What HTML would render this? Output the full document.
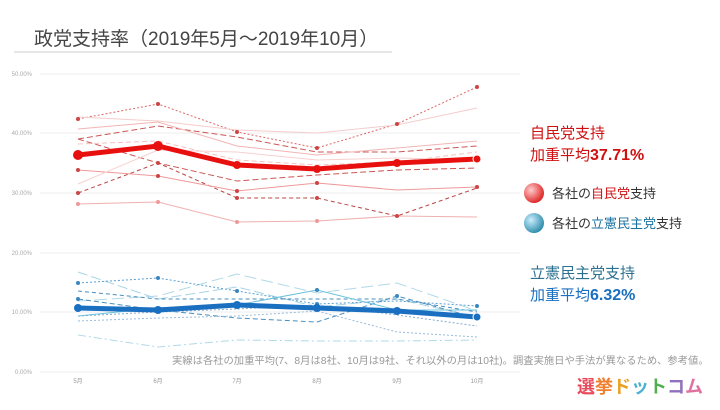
<!DOCTYPE html>
<html><head><meta charset="utf-8"><style>
body{margin:0;background:#fff;font-family:"Liberation Sans","Noto Sans CJK JP",sans-serif;}
</style></head><body>
<svg width="720" height="405" xmlns="http://www.w3.org/2000/svg" font-family="Liberation Sans, Noto Sans CJK JP, sans-serif">
<text x="34" y="45" font-size="19" fill="#444">政党支持率（2019年5月～2019年10月）</text>
<line x1="14" y1="52" x2="392" y2="52" stroke="#ccc" stroke-width="1"/>
<g stroke="#eee" stroke-width="1">
<line x1="40" y1="74" x2="520" y2="74"/><line x1="40" y1="133" x2="520" y2="133"/>
<line x1="40" y1="193" x2="520" y2="193"/><line x1="40" y1="253" x2="520" y2="253"/>
<line x1="40" y1="312" x2="520" y2="312"/><line x1="40" y1="372" x2="520" y2="372"/>
</g>
<g font-size="6" fill="#aaa" text-anchor="end">
<text x="32" y="76">50.00%</text><text x="32" y="135">40.00%</text><text x="32" y="195">30.00%</text>
<text x="32" y="255">20.00%</text><text x="32" y="314">10.00%</text><text x="32" y="374">0.00%</text>
</g>
<g font-size="6" fill="#999" text-anchor="middle">
<text x="78" y="383">5月</text><text x="158" y="383">6月</text><text x="237" y="383">7月</text>
<text x="317" y="383">8月</text><text x="397" y="383">9月</text><text x="477" y="383">10月</text>
</g>
<g fill="none" stroke-width="1">
<polyline points="78,119 158,104 237,132 317,148 397,124 477,87" stroke="#d66" stroke-dasharray="2,2"/>
<polyline points="78,139 158,126 237,137 317,152 397,152 477,146" stroke="#c55" stroke-dasharray="6,3"/>
<polyline points="78,139 158,163 237,181 317,175 397,170 477,168" stroke="#c55" stroke-dasharray="6,3"/>
<polyline points="78,193 158,163 237,198 317,198 397,216 477,188" stroke="#b44" stroke-dasharray="4,3"/>
<polyline points="78,170 158,176 237,191 317,183 397,190 477,187" stroke="#e99"/>
<polyline points="78,204 158,202 237,222 317,221 397,216 477,217" stroke="#f0b0b0"/>
<polyline points="78,129 158,122 237,146 317,155 397,148 477,141" stroke="#f2b5b5"/>
<polyline points="78,117 158,121 237,130 317,133 397,125 477,108" stroke="#f5cccc"/>
<polyline points="78,144 158,141 237,160 317,165 397,162 477,152" stroke="#f5c0c0" stroke-dasharray="5,3"/>
<polyline points="78,184 158,150 237,152 317,160 397,158 477,160" stroke="#f8d0d0"/>
</g>
<g fill="#c44">
<circle cx="78" cy="119" r="2"/><circle cx="158" cy="104" r="2"/><circle cx="237" cy="132" r="2"/><circle cx="317" cy="148" r="2"/><circle cx="397" cy="124" r="2"/><circle cx="477" cy="87" r="2"/>
<circle cx="78" cy="193" r="2"/><circle cx="158" cy="163" r="2"/><circle cx="237" cy="198" r="2"/><circle cx="317" cy="198" r="2"/><circle cx="397" cy="216" r="2"/>
<circle cx="78" cy="170" r="2"/><circle cx="158" cy="176" r="2"/><circle cx="237" cy="191" r="2"/><circle cx="317" cy="183" r="2"/><circle cx="477" cy="187" r="2"/>
<circle cx="78" cy="204" r="2" fill="#e99"/><circle cx="158" cy="202" r="2" fill="#e99"/><circle cx="237" cy="222" r="2" fill="#e99"/><circle cx="317" cy="221" r="2" fill="#e99"/>
</g>
<polyline points="78,155 158,146 237,165 317,169 397,163 477,159" fill="none" stroke="#e8100e" stroke-width="5"/>
<g fill="#e8100e"><circle cx="78" cy="155" r="5"/><circle cx="158" cy="146" r="5"/><circle cx="237" cy="165" r="4"/><circle cx="317" cy="169" r="4"/><circle cx="397" cy="163" r="4"/><circle cx="477" cy="159" r="4" stroke="#fff" stroke-width="1"/></g>
<g fill="none" stroke-width="1">
<polyline points="78,272 158,299 237,287 317,307 397,299 477,317" stroke="#a8d4e6" stroke-dasharray="10,4"/>
<polyline points="78,301 158,296 237,274 317,293 397,283 477,311" stroke="#b0d8e8" stroke-dasharray="12,5"/>
<polyline points="78,283 158,278 237,291 317,304 397,301 477,306" stroke="#5a9fd0" stroke-dasharray="2,2"/>
<polyline points="78,291 158,299 237,299 317,299 397,299 477,312" stroke="#4a8fc0" stroke-dasharray="4,3"/>
<polyline points="78,299 158,310 237,318 317,322 397,296 477,318" stroke="#4a8fc0" stroke-dasharray="5,3"/>
<polyline points="78,316 158,312 237,309 317,305 397,315 477,326" stroke="#8ac" stroke-dasharray="2,2"/>
<polyline points="78,321 158,318 237,316 317,311 397,332 477,337" stroke="#9bd" stroke-dasharray="2,2"/>
<polyline points="78,316 158,308 237,305 317,290 397,310 477,310" stroke="#6bc0dc"/>
<polyline points="78,335 158,347 237,340 317,341 397,341 477,340" stroke="#b0d8e8" stroke-dasharray="8,3,2,3"/>
</g>
<g fill="#3a86c0">
<circle cx="78" cy="283" r="2"/><circle cx="158" cy="278" r="2"/><circle cx="237" cy="291" r="2"/><circle cx="317" cy="304" r="2"/>
<circle cx="78" cy="299" r="2"/><circle cx="317" cy="290" r="2"/><circle cx="397" cy="296" r="2"/><circle cx="477" cy="306" r="2"/><circle cx="237" cy="305" r="2"/>
</g>
<polyline points="78,308 158,310 237,305 317,308 397,311 477,317" fill="none" stroke="#1a6fc0" stroke-width="5"/>
<g fill="#1a6fc0"><circle cx="78" cy="308" r="4"/><circle cx="158" cy="310" r="4"/><circle cx="237" cy="305" r="4"/><circle cx="317" cy="308" r="4"/><circle cx="397" cy="311" r="4"/><circle cx="477" cy="317" r="4" stroke="#fff" stroke-width="1"/></g>
<text x="530" y="138" font-size="15" fill="#d01010">自民党支持</text>
<text x="530" y="160" font-size="15" fill="#d01010">加重平均<tspan font-weight="bold" font-size="16">37.71%</tspan></text>
<defs>
<radialGradient id="rg" cx="0.35" cy="0.35" r="0.7"><stop offset="0" stop-color="#fcc"/><stop offset="1" stop-color="#d22"/></radialGradient>
<radialGradient id="bg" cx="0.35" cy="0.35" r="0.7"><stop offset="0" stop-color="#cef"/><stop offset="1" stop-color="#2a8aa8"/></radialGradient>
</defs>
<circle cx="534" cy="193" r="10" fill="url(#rg)"/>
<text x="552" y="198" font-size="13" fill="#333">各社の<tspan fill="#d01010">自民党</tspan>支持</text>
<circle cx="534" cy="223" r="10" fill="url(#bg)"/>
<text x="552" y="228" font-size="13" fill="#333">各社の<tspan fill="#1a6fa0">立憲民主党</tspan>支持</text>
<text x="530" y="278" font-size="15" fill="#2a7090">立憲民主党支持</text>
<text x="530" y="300" font-size="15" fill="#1a6fc0">加重平均<tspan font-weight="bold" font-size="16">6.32%</tspan></text>
<text x="172" y="364" font-size="10.3" fill="#999">実線は各社の加重平均(7、8月は8社、10月は9社、それ以外の月は10社)。調査実施日や手法が異なるため、参考値。</text>
<text x="577" y="393" font-size="18" font-weight="bold"><tspan fill="#e84a5a">選</tspan><tspan fill="#f08030">挙</tspan><tspan fill="#e8a020">ド</tspan><tspan fill="#4ab0d0">ッ</tspan><tspan fill="#50b050">ト</tspan><tspan fill="#9070c0">コ</tspan><tspan fill="#e070a0">ム</tspan></text>
</svg>
</body></html>
